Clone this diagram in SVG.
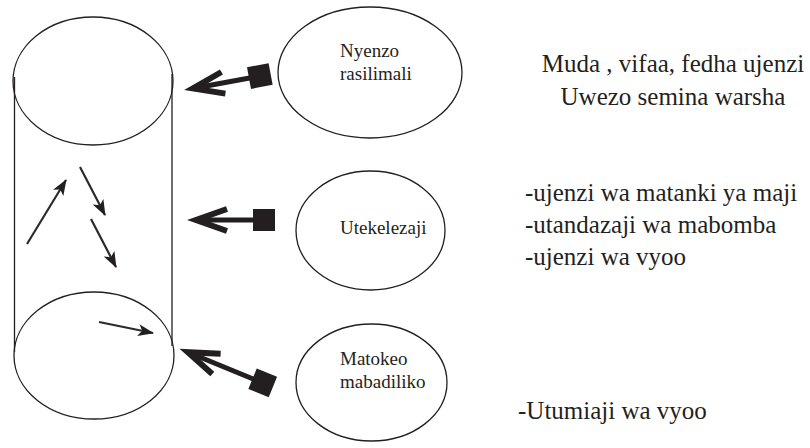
<svg xmlns="http://www.w3.org/2000/svg" width="810" height="448" viewBox="0 0 810 448">
  <defs>
    <style>
      .outline { fill: none; stroke: #231f20; stroke-width: 1.3; }
      .label { font-family: "Liberation Serif", "Times New Roman", serif; font-size: 19px; fill: #231f20; }
      .note { font-family: "Liberation Serif", "Times New Roman", serif; font-size: 25px; fill: #231f20; }
      .flow { stroke: #2b2b2b; stroke-width: 2.2; fill: none; marker-end: url(#head); }
      .barb { fill: none; stroke: #231f20; stroke-width: 6; stroke-linejoin: miter; stroke-miterlimit: 10; }
      .shaft { stroke: #231f20; stroke-width: 5; }
      .block { fill: #231f20; }
    </style>
    <marker id="head" viewBox="0 0 16 12" refX="15" refY="6" markerWidth="16" markerHeight="12" markerUnits="userSpaceOnUse" orient="auto">
      <path d="M0,0 L16,6 L0,12 L4,6 Z" fill="#231f20"/>
    </marker>
  </defs>

  <rect width="810" height="448" fill="#ffffff"/>

  <!-- cylinder: top and bottom discs joined by two walls -->
  <g id="cylinder">
    <ellipse class="outline" cx="93" cy="81" rx="80" ry="64"/>
    <line class="outline" x1="14.5" y1="77" x2="14.5" y2="352"/>
    <line class="outline" x1="172" y1="74" x2="172" y2="346"/>
    <ellipse class="outline" cx="94" cy="355.5" rx="80" ry="63.5"/>
  </g>

  <g id="node-nyenzo">
    <ellipse class="outline" cx="370" cy="72.5" rx="92" ry="65.5"/>
    <text class="label" x="340" y="57">Nyenzo</text>
    <text class="label" x="340" y="80">rasilimali</text>
  </g>

  <g id="node-utekelezaji">
    <ellipse class="outline" cx="370.5" cy="230.5" rx="74.5" ry="59.5"/>
    <text class="label" x="340" y="234">Utekelezaji</text>
  </g>

  <g id="node-matokeo">
    <ellipse class="outline" cx="371.5" cy="382.5" rx="75.5" ry="58.5"/>
    <text class="label" x="340" y="365">Matokeo</text>
    <text class="label" x="340" y="388">mabadiliko</text>
  </g>

  <g id="notes">
    <text class="note" x="673" y="72" text-anchor="middle">Muda , vifaa, fedha ujenzi</text>
    <text class="note" x="673" y="105" text-anchor="middle">Uwezo semina warsha</text>
    <text class="note" x="525" y="201">-ujenzi wa matanki ya maji</text>
    <text class="note" x="525" y="233">-utandazaji wa mabomba</text>
    <text class="note" x="525" y="265">-ujenzi wa vyoo</text>
    <text class="note" x="518" y="419">-Utumiaji wa vyoo</text>
  </g>

  <g id="connectors">
    <!-- heavy arrows from each stage into the cylinder -->
    <g transform="translate(190,89) rotate(-10.5)">
      <polyline class="barb" points="34,-11 3,0 34,11"/>
      <line class="shaft" x1="4" y1="0" x2="62" y2="0"/>
      <rect class="block" x="60" y="-11" width="22" height="22"/>
    </g>
    <g transform="translate(193,220)">
      <polyline class="barb" points="34,-11 3,0 34,11"/>
      <line class="shaft" x1="4" y1="0" x2="62" y2="0"/>
      <rect class="block" x="60" y="-11" width="22" height="22"/>
    </g>
    <g transform="translate(185,351) rotate(22.3)">
      <polyline class="barb" points="34,-11 3,0 34,11"/>
      <line class="shaft" x1="4" y1="0" x2="75" y2="0"/>
      <rect class="block" x="73" y="-11" width="22" height="22"/>
    </g>

    <!-- circulation inside the cylinder -->
    <line class="flow" x1="27" y1="244" x2="66" y2="180"/>
    <line class="flow" x1="80" y1="167" x2="105" y2="215"/>
    <line class="flow" x1="91" y1="219" x2="116" y2="267"/>
    <line class="flow" x1="99" y1="322" x2="153" y2="333"/>
  </g>
</svg>
